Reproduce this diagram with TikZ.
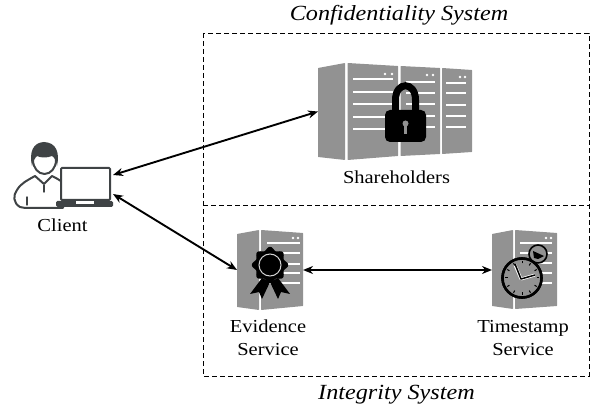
\documentclass[tikz,border=0pt]{standalone}
\usepackage{fontspec}
\setmainfont[FakeStretch=1.12]{Liberation Serif}
\usetikzlibrary{arrows.meta}
\definecolor{srv}{HTML}{929292}
\definecolor{ink}{HTML}{3F4345}
\tikzset{
  panel/.style={fill=srv,draw=none,rounded corners=0.5pt},
  slot/.style={white,line width=1.2pt},
  led/.style={fill=white,draw=none},
  hub/.style={inner sep=0pt,outer sep=0pt,draw=none,fill=none},
  link/.style={line width=1.9pt,{Stealth[length=10pt,width=8pt]}-{Stealth[length=10pt,width=8pt]}},
  zone/.style={draw=black,line width=0.8pt,dash pattern=on 5pt off 3pt},
  lab/.style={font=\fontsize{18.3}{20}\selectfont,align=center,inner sep=0pt},
  head/.style={font=\fontsize{21.6}{24}\selectfont\itshape,inner sep=0pt},
  person/.style={draw=ink,line width=2pt,line join=round,line cap=round}
}
\begin{document}
\begin{tikzpicture}[x=1pt,y=-1pt]
\useasboundingbox (0,0) rectangle (599,411);
% zones
\draw[zone] (203,33) rectangle (589,376);
\draw[zone] (203,205) -- (589,205);
% Shareholders server
\fill[panel] (318,68) -- (345,63) -- (345,160) -- (318,157) -- cycle;
\fill[panel] (347.5,63) -- (398,66) -- (398,156) -- (347.5,160) -- cycle;
\fill[panel] (400.5,66) -- (440,68) -- (440,154) -- (400.5,156) -- cycle;
\fill[panel] (442,68) -- (472,70) -- (472,152) -- (442,154) -- cycle;
\foreach \y in {79,92,104,117,129} \draw[slot] (353,\y) -- (393,\y);
\foreach \y in {82,93,104,116,127} \draw[slot] (406,\y) -- (435,\y);
\foreach \y in {83,93,105,116,127} \draw[slot] (446,\y) -- (466,\y);
\foreach \x/\y in {385/74,392/74,427/75,433/75,460/77,465/77} \fill[led] (\x,\y) circle (1.4pt);
% lock
\draw[black,line width=7pt] (395.5,112) -- (395.5,100) .. controls (395.5,81) and (415.5,81) .. (415.5,100) -- (415.5,112);
\fill[black,rounded corners=5pt] (385,110) rectangle (426,142);
\fill[srv] (405.5,123.5) circle (3pt);
\fill[srv] (404,124) rectangle (407,134);
\node[hub,minimum width=154pt,minimum height=97pt] (share) at (395,111.5) {};
% Evidence server
\fill[panel] (237,234) -- (259,230) -- (259,310) -- (237,307) -- cycle;
\fill[panel] (261,230) -- (303,233) -- (303,306) -- (261,310) -- cycle;
\foreach \y in {243,253,264,273,283} \draw[slot] (267,\y) -- (300,\y);
\foreach \x in {293,298} \fill[led] (\x,238) circle (1.3pt);
% seal
\fill[black] (262,278) -- (250,294) -- (259,292) -- (262,299) -- (270,282) -- cycle;
\fill[black] (278,278) -- (290,294) -- (281,292) -- (278,299) -- (270,282) -- cycle;
\fill[black] plot[domain=0:360,samples=73] ({270+(16.5+1.7*cos(8*\x))*cos(\x)},{265+(16.5+1.7*cos(8*\x))*sin(\x)}) -- cycle;
\draw[srv!40!white,line width=1pt] (270,265) circle (11pt);
\node[hub,minimum width=66pt,minimum height=80pt] (evid) at (270,270) {};
% Timestamp server
\fill[panel] (492,234) -- (513,230) -- (513,309) -- (492,306) -- cycle;
\fill[panel] (515,230) -- (557,233) -- (557,306) -- (515,309) -- cycle;
\foreach \y in {243,253,263,273,283} \draw[slot] (520,\y) -- (552,\y);
\foreach \x in {546,551} \fill[led] (\x,238) circle (1.3pt);
% stopwatch
\filldraw[fill=srv,draw=black,line width=2.6pt] (522,278) circle (19.5pt);
\filldraw[fill=srv,draw=black,line width=1.6pt] (538,254) circle (9pt);
\filldraw[fill=srv,draw=black,line width=2.6pt] (522,278) circle (19.5pt);
\fill[black] (533,251) -- (544,256) -- (538,259) -- (534,258) -- cycle;
\draw[white,line width=3pt] (521,279) -- (515,265);
\draw[white,line width=3pt] (521,279) -- (535,275);
\draw[black,line width=1.5pt] (521,279) -- (515,264);
\draw[black,line width=1.5pt] (521,279) -- (535,275);
\foreach \a in {0,30,...,330}
  \draw[black,line width=1pt] ({522+14.5*cos(\a)},{278+14.5*sin(\a)}) -- ({522+17*cos(\a)},{278+17*sin(\a)});
\node[hub,minimum width=65pt,minimum height=80pt] (stamp) at (524.5,270) {};
% Client
\fill[white,person] (20,207) .. controls (13,203) and (13,195) .. (17,190) .. controls (21,183) and (28,180) .. (35,176) -- (44,184) -- (52,176) .. controls (56,178) and (60,180) .. (63,183) -- (63,208) -- (30,208) .. controls (26,208) and (23,208) .. (20,207) -- cycle;
\draw[person,line width=1.4pt] (27,197) -- (27,205);
\draw[person,line width=1.4pt] (44,185) -- (44,192);
\filldraw[fill=white,person] (44.5,160) ellipse (11.5pt and 14pt);
\fill[ink] (32,166) .. controls (29,152) and (33,142.5) .. (44,142) .. controls (56,142.5) and (60,152) .. (57,166) .. controls (56,160) and (54,157) .. (52,156) .. controls (47,158) and (41,158) .. (37,156) .. controls (35,158) and (33,161) .. (32,166) -- cycle;
\filldraw[fill=white,draw=ink,line width=2pt,rounded corners=1pt] (61,168) rectangle (110,200);
\fill[ink,rounded corners=1.5pt] (56,201) rectangle (113,207);
\fill[white] (76,201) rectangle (94,204);
\node[hub,minimum width=98pt,minimum height=64pt] (client) at (64,175) {};
% connectors
\draw[link] (client.east) -- (share.west);
\draw[link] ([yshift=-19pt]client.east) -- (evid.west);
\draw[link] (evid.east) -- (stamp.west);
% labels
\node[lab] (tclient) at (62.5,225) {Client};
\node[lab] (tshare) at (396.5,177) {Shareholders};
\node[lab] (tevid) at (268,338) {Evidence\\[3pt]Service};
\node[lab] (tstamp) at (523,338) {Timestamp\\[3pt]Service};
\node[head] (tconf) at (399,15) {Confidentiality System};
\node[head] (tint) at (396.5,395) {Integrity System};
\end{tikzpicture}
\end{document}
